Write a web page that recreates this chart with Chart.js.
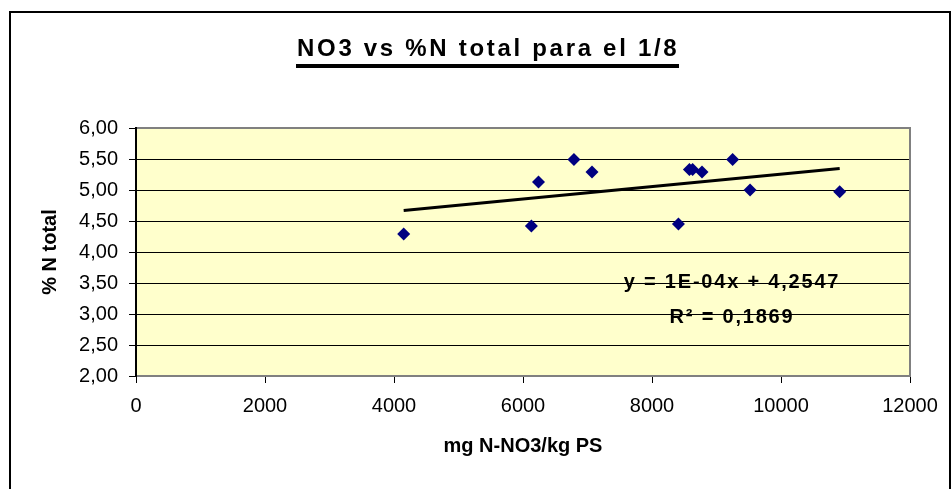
<!DOCTYPE html>
<html>
<head>
<meta charset="utf-8">
<title>NO3 vs %N total</title>
<script src="https://cdn.jsdelivr.net/npm/chart.js@4.4.0/dist/chart.umd.min.js"></script>
<style>
  html, body { margin: 0; padding: 0; background: #fff; }
  #wrap { position: relative; width: 952px; height: 489px; }
</style>
</head>
<body>
<div id="wrap"><canvas id="scatterChart"></canvas></div>
<script>
// ==========================================
// Data
// ==========================================
const chartTitle = 'NO3 vs %N total para el 1/8';
const xTitle = 'mg N-NO3/kg PS';
const yTitle = '% N total';

const nitrateValues = [4150, 6130, 6240, 6790, 7070, 8410, 8580, 8630, 8775, 9250, 9520, 10910];
const nitrogenValues = [4.29, 4.42, 5.13, 5.49, 5.29, 4.45, 5.33, 5.33, 5.29, 5.49, 5.00, 4.97];

// Trend line as printed on the chart
const trendSlope = 0.0001;
const trendIntercept = 4.2547;
const trendLabels = ['y = 1E-04x + 4,2547', 'R\u00B2 = 0,1869'];

// Axis ranges
const xMin = 0, xMax = 12000, xStep = 2000;
const yMin = 2, yMax = 6, yStep = 0.5;

const FONT = '"Liberation Sans", Arial, sans-serif';
Chart.defaults.font.family = FONT;
Chart.defaults.color = '#000';

// Build datasets
const points = nitrateValues.map((x, i) => ({ x, y: nitrogenValues[i] }));
const xLo = Math.min(...nitrateValues);
const xHi = Math.max(...nitrateValues);
const trendPoints = [
  { x: xLo, y: trendSlope * xLo + trendIntercept },
  { x: xHi, y: trendSlope * xHi + trendIntercept }
];

// Frame, plot background and border
const backgroundPlugin = {
  id: 'excelFrame',
  beforeDraw(chart) {
    const { ctx, chartArea: a } = chart;
    ctx.save();
    ctx.fillStyle = '#fff';
    ctx.fillRect(0, 0, chart.width, chart.height);
    ctx.strokeStyle = '#000';
    ctx.lineWidth = 2;
    ctx.strokeRect(10, 12, 940, 500);
    ctx.fillStyle = '#FFFFCC';
    ctx.fillRect(a.left, a.top, a.right - a.left, a.bottom - a.top);
    ctx.restore();
  },
  beforeDatasetsDraw(chart) {
    const { ctx, chartArea: a } = chart;
    ctx.save();
    ctx.lineWidth = 2;
    ctx.strokeStyle = '#808080';
    ctx.beginPath();
    ctx.moveTo(a.left, a.top);
    ctx.lineTo(a.right, a.top);
    ctx.lineTo(a.right, a.bottom);
    ctx.lineTo(a.left, a.bottom);
    ctx.stroke();
    ctx.strokeStyle = '#000';
    ctx.beginPath();
    ctx.moveTo(a.left, a.top - 1);
    ctx.lineTo(a.left, a.bottom + 1);
    ctx.stroke();
    ctx.restore();
  }
};

// Title (underlined) and trend equation
const textPlugin = {
  id: 'excelText',
  afterDraw(chart) {
    const ctx = chart.ctx;
    ctx.save();
    ctx.fillStyle = '#000';
    ctx.textBaseline = 'alphabetic';

    ctx.font = 'bold 24px ' + FONT;
    ctx.letterSpacing = '2.7px';
    ctx.textAlign = 'left';
    ctx.fillText(chartTitle, 297, 56);
    ctx.fillRect(296, 64, 383, 4);

    ctx.font = 'bold 20px ' + FONT;
    ctx.letterSpacing = '1.8px';
    ctx.textAlign = 'center';
    ctx.fillText(trendLabels[0], 732, 288);
    ctx.fillText(trendLabels[1], 732, 323);
    ctx.restore();
  }
};

const ctx = document.getElementById('scatterChart');
new Chart(ctx, {
  type: 'scatter',
  data: {
    datasets: [
      {
        label: 'datos',
        data: points,
        backgroundColor: '#000080',
        borderColor: '#000080',
        pointStyle: 'rectRot',
        pointRadius: 6.5,
        pointBorderWidth: 0,
        showLine: false
      },
      {
        label: 'Lineal',
        data: trendPoints,
        borderColor: '#000',
        borderWidth: 3,
        pointRadius: 0,
        showLine: true,
        fill: false
      }
    ]
  },
  options: {
    responsive: true,
    maintainAspectRatio: false,
    animation: false,
    layout: { padding: { left: 0, top: 128, right: 42, bottom: 0 } },
    plugins: {
      legend: { display: false },
      title: { display: false },
      tooltip: { enabled: false }
    },
    scales: {
      x: {
        type: 'linear',
        min: xMin,
        max: xMax,
        afterFit: (scale) => { scale.height = 113; },
        ticks: {
          stepSize: xStep,
          padding: 11,
          color: '#000',
          font: { size: 20 },
          maxRotation: 0,
          callback: (v) => String(v)
        },
        grid: { drawOnChartArea: false, drawTicks: true, tickLength: 7, color: '#000' },
        border: { display: false },
        title: {
          display: true,
          text: xTitle,
          color: '#000',
          font: { size: 20, weight: 'bold' },
          padding: { top: 0, bottom: 31 }
        }
      },
      y: {
        type: 'linear',
        min: yMin,
        max: yMax,
        afterFit: (scale) => { scale.width = 136; },
        ticks: {
          stepSize: yStep,
          padding: 11,
          color: '#000',
          font: { size: 20 },
          callback: (v) => v.toFixed(2).replace('.', ',')
        },
        grid: { color: '#000', lineWidth: 1, drawTicks: true, tickLength: 7 },
        border: { display: false },
        title: {
          display: true,
          text: yTitle,
          color: '#000',
          font: { size: 20, weight: 'bold' },
          padding: { top: 38, bottom: 0 }
        }
      }
    }
  },
  plugins: [backgroundPlugin, textPlugin]
});
</script>
</body>
</html>
